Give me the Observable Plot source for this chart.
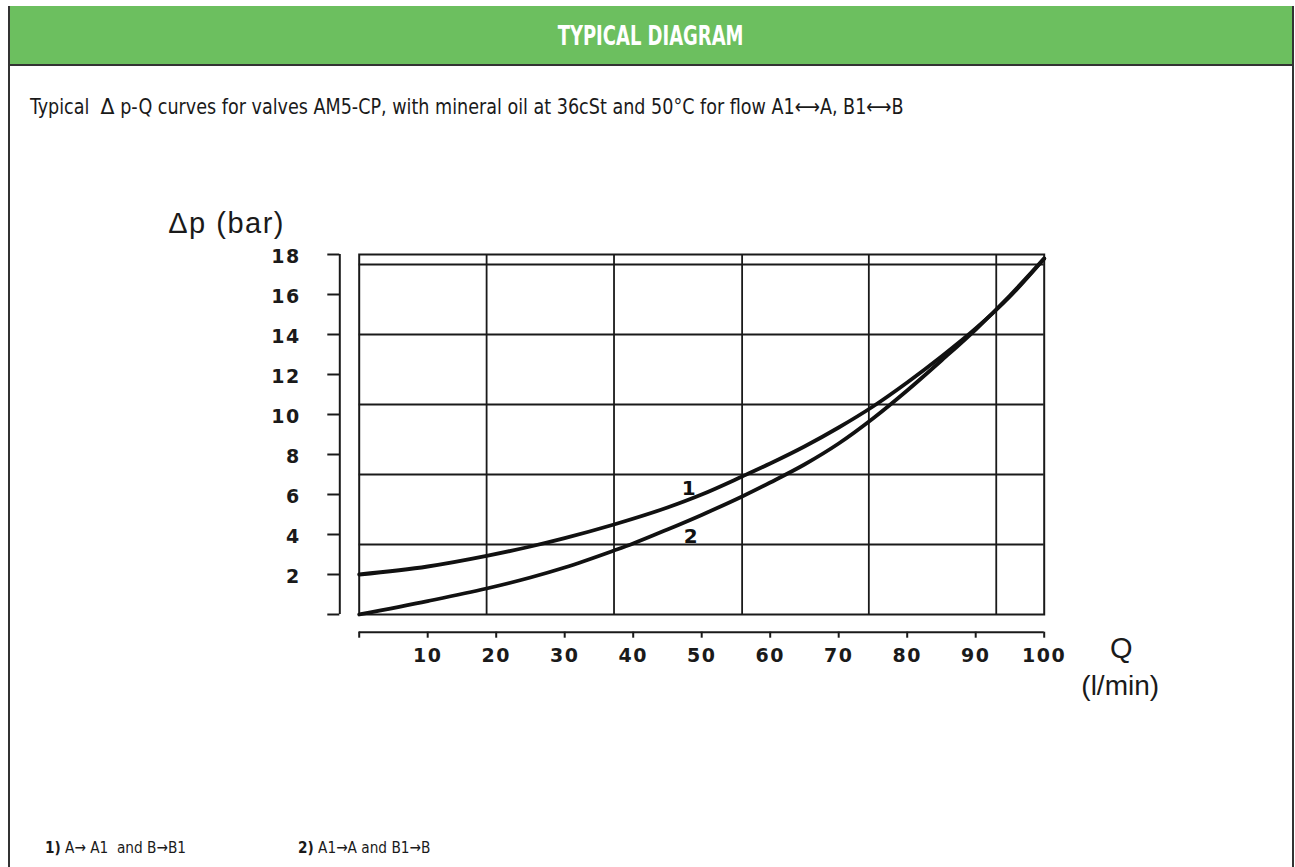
<!DOCTYPE html>
<html>
<head>
<meta charset="utf-8">
<script src="https://cdn.jsdelivr.net/npm/d3@7"></script>
<script src="https://cdn.jsdelivr.net/npm/@observablehq/plot@0.6"></script>
<style>
  html, body { margin: 0; padding: 0; background: #fff; }
  #page { position: relative; width: 1295px; height: 867px; overflow: hidden; background: #fff; }
  #frame { position: absolute; left: 8px; top: 6px; width: 1282px; height: 870px; border-left: 2px solid #333; border-right: 2px solid #333; }
  #hdr { position: absolute; left: 8px; top: 6px; width: 1286px; height: 58px; background: #6cbf5f; border-bottom: 2px solid #333;
         text-align: center; line-height: 60px; }
  #hdr span { display: inline-block; color: #fff; font-family: "DejaVu Sans", sans-serif; font-stretch: condensed; font-weight: bold;
         font-size: 27px; transform: scaleX(0.74); transform-origin: center; }
  .cond { font-family: "DejaVu Sans", sans-serif; font-stretch: condensed; color: #1a1a1a; white-space: pre; position: absolute; transform-origin: left center; }
  #sub { left: 30px; top: 94px; font-size: 21px; transform: scaleX(0.93); }
  #fn1 { left: 45px; top: 838px; font-size: 16px; transform: scaleX(0.95); }
  #fn2 { left: 298px; top: 838px; font-size: 16px; transform: scaleX(0.95); }
  #chart { position: absolute; left: 0; top: 180px; }
  .chart g[aria-label="x-axis tick label"] text,
  .chart g[aria-label="y-axis tick label"] text { letter-spacing: 1.5px; }
  .chart text.ls, .chart .ls text { letter-spacing: 1.5px; }
</style>
</head>
<body>
<div id="page">
  <div id="hdr"><span>TYPICAL DIAGRAM</span></div>
  <div id="frame"></div>
  <div id="sub" class="cond">Typical  <span style="font-stretch:normal;font-size:22px">Δ</span> p-Q curves for valves AM5-CP, with mineral oil at 36cSt and 50°C for flow A1⟷A, B1⟷B</div>
  <div id="fn1" class="cond"><b>1)</b> A→ A1  and B→B1</div>
  <div id="fn2" class="cond"><b>2)</b> A1→A and B1→B</div>
  <div id="chart"></div>
</div>
<script>
// Curve 1: A -> A1 and B -> B1
const q1  = [0, 10, 18.6, 25, 30, 37.2, 45, 50, 55.9, 60, 65, 70, 75, 80, 85, 90, 95, 100];
const dp1 = [2.0, 2.4, 2.93, 3.4, 3.82, 4.5, 5.35, 6.0, 6.9, 7.55, 8.4, 9.35, 10.4, 11.6, 12.9, 14.3, 15.9, 17.8];
// Curve 2: A1 -> A and B1 -> B
const q2  = [0, 10, 18.6, 25, 30, 37.2, 40, 45, 50, 55.9, 60, 65, 70, 75, 80, 85, 90, 95, 100];
const dp2 = [0, 0.67, 1.3, 1.85, 2.35, 3.2, 3.55, 4.25, 4.98, 5.9, 6.6, 7.5, 8.55, 9.8, 11.2, 12.7, 14.25, 15.95, 17.8];
// Axis ticks
const xTicks = [0, 10, 20, 30, 40, 50, 60, 70, 80, 90, 100];
const yTicks = [0, 2, 4, 6, 8, 10, 12, 14, 16, 18];
// Grid lines of the drawn frame
const xGrid = [18.6, 37.2, 55.9, 74.4, 93.0];
const yGrid = [3.5, 7, 10.5, 14, 17.5];
// Curve labels
const labelNames = ["1", "2"];
const labelQ = [48.1, 48.4];
const labelDp = [6.3, 3.9];

const rows = [
  ...q1.map((q, i) => ({q, dp: dp1[i], curve: "1"})),
  ...q2.map((q, i) => ({q, dp: dp2[i], curve: "2"}))
];
const labels = labelNames.map((t, i) => ({t, q: labelQ[i], dp: labelDp[i]}));

const ink = "#1a1a1a";
const tickFont = "'DejaVu Sans', sans-serif";
const fmt = d => d === 0 ? "" : String(d);
const none = () => "";

const chart = Plot.plot({
  className: "chart",
  width: 1295,
  height: 540,
  marginLeft: 358.7,
  marginRight: 251.3,
  marginTop: 74,
  marginBottom: 106,
  x: {domain: [0, 100], label: null},
  y: {domain: [0, 18], label: null},
  style: {background: "transparent", fontFamily: "'Liberation Sans', Arial, sans-serif", color: ink},
  marks: [
    Plot.ruleX(xGrid, {stroke: ink, strokeWidth: 1.8}),
    Plot.ruleY(yGrid, {stroke: ink, strokeWidth: 1.8}),
    Plot.frame({stroke: ink, strokeWidth: 2}),
    Plot.line(rows, {x: "q", y: "dp", z: "curve", curve: "monotone-x", stroke: "#111", strokeWidth: 3.8}),
    Plot.text(labels, {x: "q", y: "dp", text: "t", fontSize: 20, fontWeight: "bold", fontFamily: tickFont, fill: "#111"}),
    // separate y axis to the left of the frame: line + ticks, then labels
    Plot.ruleX([0], {y1: 0, y2: 18, dx: -19.4, stroke: ink, strokeWidth: 2}),
    Plot.axisY({ticks: yTicks, tickSize: 12, dx: -19.4, stroke: ink, strokeWidth: 2, tickFormat: none, label: null}),
    Plot.axisY({ticks: yTicks, tickSize: 0, tickPadding: 39, dx: -19.4, dy: 2, label: null,
      tickFormat: fmt, fontSize: 19, fontWeight: "bold", fontFamily: tickFont, fill: ink}),
    // separate x axis below the frame
    Plot.ruleY([0], {x1: 0, x2: 100, dy: 17.7, stroke: ink, strokeWidth: 2}),
    Plot.axisX({ticks: xTicks, tickSize: 6, tickPadding: 10, dy: 17.7, stroke: ink, strokeWidth: 2, label: null,
      tickFormat: fmt, fontSize: 19, fontWeight: "bold", fontFamily: tickFont, fill: ink}),
    // axis titles
    Plot.text(["Δp (bar)"], {frameAnchor: "top-left", dx: -191, dy: -31, textAnchor: "start", lineAnchor: "middle",
      fontSize: 29, fill: ink, className: "ls"}),
    Plot.text(["Q"], {frameAnchor: "bottom-right", dx: 77, dy: 34, textAnchor: "middle", lineAnchor: "middle", fontSize: 29, fill: ink}),
    Plot.text(["(l/min)"], {frameAnchor: "bottom-right", dx: 76, dy: 72, textAnchor: "middle", lineAnchor: "middle", fontSize: 28, fill: ink})
  ]
});
document.getElementById("chart").appendChild(chart);
</script>
</body>
</html>
